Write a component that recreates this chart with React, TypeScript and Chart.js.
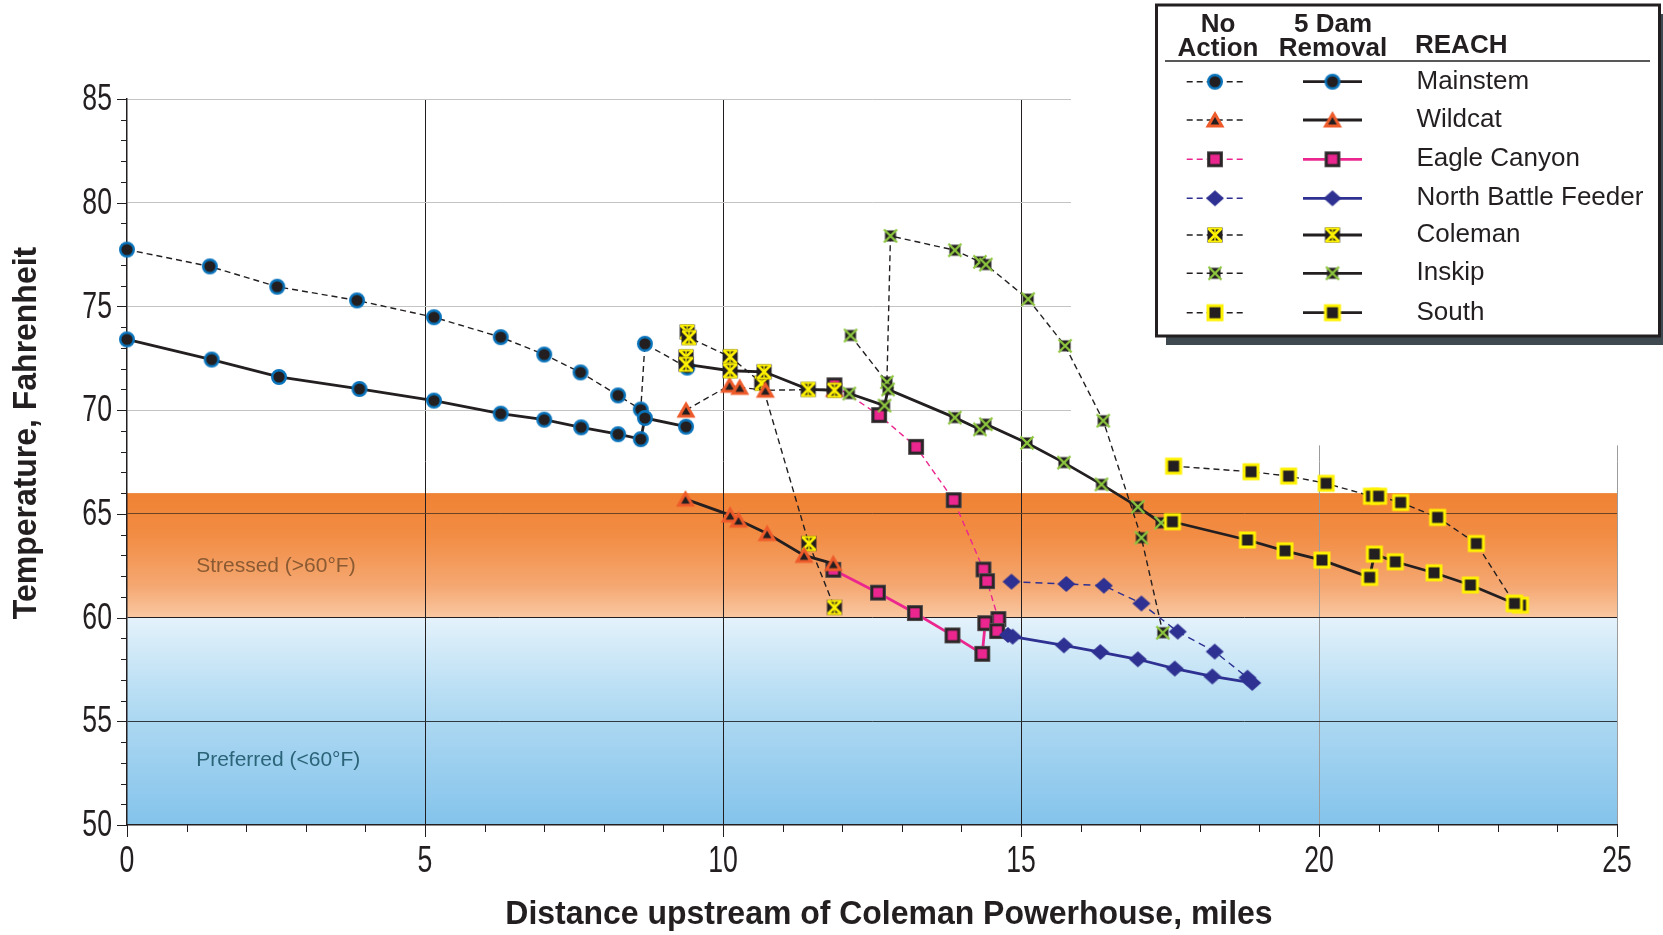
import React, { useEffect, useRef } from 'react';
import { Chart, registerables } from 'chart.js';

Chart.register(...registerables);

// ---------- DATA ----------
const xTickValues = [0, 5, 10, 15, 20, 25];
const yTickValues = [50, 55, 60, 65, 70, 75, 80, 85];

const mainstemNoAction: [number, number][] = [
  [0, 77.74], [1.39, 76.93], [2.52, 75.95], [3.86, 75.29], [5.15, 74.48], [6.27, 73.52],
  [7.0, 72.68], [7.61, 71.82], [8.24, 70.71], [8.62, 70.03], [8.69, 73.2], [9.4, 72.05],
];
const mainstemDamRemoval: [number, number][] = [
  [0, 73.41], [1.42, 72.44], [2.55, 71.6], [3.9, 71.02], [5.15, 70.46], [6.27, 69.83],
  [7.0, 69.54], [7.62, 69.17], [8.24, 68.84], [8.62, 68.6], [8.69, 69.62], [9.38, 69.2],
];
const wildcatNoAction: [number, number][] = [
  [9.38, 70.0], [10.11, 71.2], [10.28, 71.1], [10.71, 70.96], [11.87, 71.0],
];
const wildcatDamRemoval: [number, number][] = [
  [9.37, 65.71], [10.12, 64.94], [10.26, 64.7], [10.74, 64.05], [11.36, 63.0], [11.85, 62.6],
];
const eagleNoAction: [number, number][] = [
  [11.87, 71.2], [12.62, 69.76], [13.24, 68.23], [13.87, 65.66], [14.37, 62.32], [14.43, 61.76], [14.62, 59.93],
];
const eagleDamRemoval: [number, number][] = [
  [11.85, 62.3], [12.6, 61.2], [13.22, 60.22], [13.85, 59.14], [14.35, 58.25], [14.4, 59.73], [14.6, 59.35],
];
const feederNoAction: [number, number][] = [
  [14.84, 61.73], [15.76, 61.62], [16.39, 61.54], [17.02, 60.68], [17.63, 59.32], [18.25, 58.36], [18.8, 57.1],
];
const feederDamRemoval: [number, number][] = [
  [14.78, 59.16], [14.86, 59.08], [15.72, 58.66], [16.33, 58.34], [16.96, 57.99], [17.58, 57.54],
  [18.21, 57.16], [18.88, 56.85],
];
const colemanNoAction: [number, number][] = [
  [9.4, 73.77], [9.43, 73.5], [10.12, 72.57], [10.65, 71.3], [11.44, 63.57], [11.87, 60.49],
];
const colemanDamRemoval: [number, number][] = [
  [9.38, 72.57], [9.38, 72.21], [10.12, 71.9], [10.69, 71.85], [11.43, 71.0], [11.87, 70.96],
];
const inskipNoAction: [number, number][] = [
  [12.14, 73.6], [12.75, 71.35], [12.81, 78.4], [13.89, 77.71], [14.31, 77.15], [14.41, 77.02],
  [15.12, 75.35], [15.74, 73.1], [16.38, 69.49], [17.02, 63.85], [17.38, 59.27],
];
const inskipDamRemoval: [number, number][] = [
  [12.12, 70.8], [12.71, 70.22], [12.77, 71.0], [13.89, 69.64], [14.31, 69.07], [14.41, 69.32],
  [15.1, 68.42], [15.72, 67.47], [16.35, 66.42], [16.96, 65.34], [17.35, 64.57],
];
const southNoAction: [number, number][] = [
  [17.56, 67.3], [18.86, 67.03], [19.49, 66.82], [20.12, 66.47], [20.88, 65.85], [21.0, 65.85],
  [21.37, 65.55], [21.99, 64.83], [22.64, 63.57], [23.28, 60.68], [23.38, 60.6],
];
const southDamRemoval: [number, number][] = [
  [17.54, 64.62], [18.8, 63.74], [19.43, 63.22], [20.05, 62.77], [20.85, 61.94], [20.93, 63.06],
  [21.28, 62.69], [21.93, 62.16], [22.54, 61.57], [23.28, 60.68],
];

const reachNames = ['Mainstem', 'Wildcat', 'Eagle Canyon', 'North Battle Feeder', 'Coleman', 'Inskip', 'South'];

// ---------- STYLE ----------
const BLACK = '#231f20';
const PINK = '#ec268f';
const NAVY = '#2e3192';
const SANS = "'Liberation Sans', Arial, Helvetica, sans-serif";

function makeCanvas(w: number, h: number, draw: (g: CanvasRenderingContext2D) => void) {
  const c = document.createElement('canvas');
  c.width = w;
  c.height = h;
  const g = c.getContext('2d')!;
  draw(g);
  return c;
}

function buildMarkers() {
  const circle = makeCanvas(20, 20, (g) => {
    g.beginPath();
    g.arc(10, 10, 6.8, 0, Math.PI * 2);
    g.fillStyle = BLACK;
    g.fill();
    g.lineWidth = 2.4;
    g.strokeStyle = '#0a74bc';
    g.stroke();
  });
  const triangle = makeCanvas(22, 22, (g) => {
    g.beginPath();
    g.moveTo(11, 2);
    g.lineTo(20.5, 18.5);
    g.lineTo(1.5, 18.5);
    g.closePath();
    g.fillStyle = '#ee5b2b';
    g.fill();
    const cx = 11, cy = 13, k = 0.45;
    const pts = [[11, 2], [20.5, 18.5], [1.5, 18.5]].map(([x, y]) => [cx + k * (x - cx), cy + k * (y - cy)]);
    g.beginPath();
    g.moveTo(pts[0][0], pts[0][1]);
    g.lineTo(pts[1][0], pts[1][1]);
    g.lineTo(pts[2][0], pts[2][1]);
    g.closePath();
    g.fillStyle = BLACK;
    g.fill();
  });
  const pinkSquare = makeCanvas(18, 18, (g) => {
    g.fillStyle = '#5a5657';
    g.fillRect(1, 1, 16, 16);
    g.fillStyle = '#2a2627';
    g.fillRect(1.8, 1.8, 14.4, 14.4);
    g.fillStyle = PINK;
    g.fillRect(4.3, 4.3, 9.4, 9.4);
  });
  const diamond = makeCanvas(22, 20, (g) => {
    g.beginPath();
    g.moveTo(11, 2);
    g.lineTo(20, 10);
    g.lineTo(11, 18);
    g.lineTo(2, 10);
    g.closePath();
    g.fillStyle = NAVY;
    g.fill();
  });
  const coleman = makeCanvas(18, 18, (g) => {
    g.fillStyle = BLACK;
    g.fillRect(1.5, 1.5, 15, 15);
    g.strokeStyle = '#fff200';
    g.lineWidth = 2.6;
    g.beginPath();
    g.moveTo(2.5, 2.5); g.lineTo(15.5, 15.5);
    g.moveTo(15.5, 2.5); g.lineTo(2.5, 15.5);
    g.stroke();
    g.lineWidth = 2;
    g.beginPath();
    g.moveTo(2, 2.5); g.lineTo(16, 2.5);
    g.moveTo(2, 15.5); g.lineTo(16, 15.5);
    g.stroke();
    g.lineWidth = 1.4;
    g.beginPath();
    g.moveTo(9, 2); g.lineTo(9, 16);
    g.stroke();
  });
  const inskip = makeCanvas(16, 16, (g) => {
    g.fillStyle = BLACK;
    g.fillRect(2.5, 2.5, 11, 11);
    g.strokeStyle = '#8dc63f';
    g.lineWidth = 2.4;
    g.beginPath();
    g.moveTo(1.5, 1.5); g.lineTo(14.5, 14.5);
    g.moveTo(14.5, 1.5); g.lineTo(1.5, 14.5);
    g.stroke();
  });
  const south = makeCanvas(20, 20, (g) => {
    g.fillStyle = '#fff200';
    g.fillRect(1.5, 1.5, 17, 17);
    g.fillStyle = BLACK;
    g.fillRect(4.5, 4.5, 11, 11);
  });
  return { circle, triangle, pinkSquare, diamond, coleman, inskip, south };
}

function condensedText(ctx: CanvasRenderingContext2D, text: string, x: number, y: number, sx: number) {
  ctx.save();
  ctx.translate(x, y);
  ctx.scale(sx, 1);
  ctx.fillText(text, 0, 0);
  ctx.restore();
}

export default function App() {
  const ref = useRef<HTMLCanvasElement | null>(null);

  useEffect(() => {
    document.body.style.margin = '0';
    const canvas = ref.current;
    if (!canvas) return;
    const m = buildMarkers();

    const reachMarkers = [m.circle, m.triangle, m.pinkSquare, m.diamond, m.coleman, m.inskip, m.south];
    const reachColors = [BLACK, BLACK, PINK, NAVY, BLACK, BLACK, BLACK];

    // bottom -> top drawing order
    const series = [
      { data: mainstemNoAction, mk: m.circle, color: BLACK, dashed: true },
      { data: mainstemDamRemoval, mk: m.circle, color: BLACK, dashed: false },
      { data: eagleNoAction, mk: m.pinkSquare, color: PINK, dashed: true },
      { data: eagleDamRemoval, mk: m.pinkSquare, color: PINK, dashed: false },
      { data: colemanNoAction, mk: m.coleman, color: BLACK, dashed: true },
      { data: wildcatNoAction, mk: m.triangle, color: BLACK, dashed: true },
      { data: wildcatDamRemoval, mk: m.triangle, color: BLACK, dashed: false },
      { data: colemanDamRemoval, mk: m.coleman, color: BLACK, dashed: false },
      { data: inskipNoAction, mk: m.inskip, color: BLACK, dashed: true },
      { data: inskipDamRemoval, mk: m.inskip, color: BLACK, dashed: false },
      { data: feederNoAction, mk: m.diamond, color: NAVY, dashed: true },
      { data: feederDamRemoval, mk: m.diamond, color: NAVY, dashed: false },
      { data: southNoAction, mk: m.south, color: BLACK, dashed: true },
      { data: southDamRemoval, mk: m.south, color: BLACK, dashed: false },
    ];
    const n = series.length;

    const datasets = series.map((s, i) => ({
      data: s.data.map(([x, y]) => ({ x, y })),
      showLine: true,
      borderColor: s.color,
      backgroundColor: s.color,
      borderWidth: s.dashed ? 1.4 : 2.8,
      borderDash: s.dashed ? (s.color === NAVY ? [7, 5] : [6, 4]) : [],
      pointStyle: s.mk,
      pointRadius: 9,
      pointHoverRadius: 9,
      tension: 0,
      clip: false as any,
      fill: false,
      order: n - i,
    }));

    const decor = {
      id: 'decor',
      beforeDraw(chart: any) {
        const { ctx, chartArea } = chart;
        const ys = chart.scales.y;
        const l = chartArea.left, r = chartArea.right;
        ctx.save();
        ctx.fillStyle = '#ffffff';
        ctx.fillRect(0, 0, chart.width, chart.height);
        const y66 = ys.getPixelForValue(66), y60 = ys.getPixelForValue(60), y50 = ys.getPixelForValue(50);
        let g = ctx.createLinearGradient(0, y66, 0, y60);
        g.addColorStop(0, '#f08233');
        g.addColorStop(0.35, '#f28d45');
        g.addColorStop(0.75, '#f5a872');
        g.addColorStop(1, '#f9c8a2');
        ctx.fillStyle = g;
        ctx.fillRect(l, y66, r - l, y60 - y66);
        g = ctx.createLinearGradient(0, y60, 0, y50);
        g.addColorStop(0, '#e4f2fb');
        g.addColorStop(0.4, '#b4dcf3');
        g.addColorStop(1, '#84c3eb');
        ctx.fillStyle = g;
        ctx.fillRect(l, y60, r - l, y50 - y60);
        ctx.restore();
      },
      beforeDatasetsDraw(chart: any) {
        const { ctx, chartArea } = chart;
        const xs = chart.scales.x, ys = chart.scales.y;
        ctx.save();
        // white area behind legend
        const mx = xs.getPixelForValue(15.84);
        const my = ys.getPixelForValue(68.3);
        ctx.fillStyle = '#ffffff';
        ctx.fillRect(mx, chartArea.top - 3, chartArea.right - mx + 5, my - chartArea.top + 3);
        // tick marks (major + minor)
        ctx.strokeStyle = BLACK;
        ctx.lineWidth = 1;
        ctx.beginPath();
        for (let v = 0; v <= 25; v++) {
          const px = Math.round(xs.getPixelForValue(v)) + 0.5;
          const len = v % 5 === 0 ? 12 : 7;
          ctx.moveTo(px, chartArea.bottom);
          ctx.lineTo(px, chartArea.bottom + len);
        }
        for (let v = 50; v <= 85; v++) {
          const py = Math.round(ys.getPixelForValue(v)) + 0.5;
          const len = v % 5 === 0 ? 10 : 6;
          ctx.moveTo(chartArea.left - len, py);
          ctx.lineTo(chartArea.left, py);
        }
        ctx.stroke();
        // tick labels (condensed)
        ctx.fillStyle = BLACK;
        ctx.font = `37px ${SANS}`;
        ctx.textBaseline = 'middle';
        ctx.textAlign = 'center';
        xs.ticks.forEach((t: any) => {
          condensedText(ctx, String(t.value), xs.getPixelForValue(t.value), 862, 0.72);
        });
        ctx.textAlign = 'right';
        ys.ticks.forEach((t: any) => {
          condensedText(ctx, String(t.value), 112, ys.getPixelForValue(t.value) + 1, 0.72);
        });
        // band labels
        ctx.font = `21px ${SANS}`;
        ctx.textAlign = 'left';
        ctx.fillStyle = '#8a5a33';
        ctx.fillText('Stressed (>60°F)', xs.getPixelForValue(1.16), ys.getPixelForValue(62.5));
        ctx.fillStyle = '#2b6478';
        ctx.fillText('Preferred (<60°F)', xs.getPixelForValue(1.16), ys.getPixelForValue(53.1));
        // axis titles
        ctx.fillStyle = BLACK;
        ctx.font = `bold 34px ${SANS}`;
        ctx.textAlign = 'center';
        condensedText(ctx, 'Distance upstream of Coleman Powerhouse, miles', 889, 915, 0.94);
        ctx.save();
        ctx.translate(27, 433);
        ctx.rotate(-Math.PI / 2);
        condensedText(ctx, 'Temperature, Fahrenheit', 0, 0, 0.94);
        ctx.restore();
        ctx.restore();
      },
      afterDraw(chart: any) {
        const { ctx } = chart;
        ctx.save();
        ctx.fillStyle = '#3e4a4f';
        ctx.fillRect(1166, 14, 510, 331);
        ctx.fillStyle = '#ffffff';
        ctx.fillRect(1156.5, 5, 503, 331);
        ctx.strokeStyle = BLACK;
        ctx.lineWidth = 3;
        ctx.strokeRect(1156.5, 5, 503, 331);
        ctx.fillStyle = BLACK;
        ctx.font = `bold 26px ${SANS}`;
        ctx.textAlign = 'center';
        ctx.textBaseline = 'middle';
        ctx.fillText('No', 1218, 25);
        ctx.fillText('Action', 1218, 48.5);
        ctx.fillText('5 Dam', 1333, 25);
        ctx.fillText('Removal', 1333, 48.5);
        ctx.textAlign = 'left';
        ctx.fillText('REACH', 1415, 46);
        ctx.lineWidth = 1.4;
        ctx.beginPath();
        ctx.moveTo(1165, 61);
        ctx.lineTo(1650, 61);
        ctx.stroke();
        const rowY = [81.7, 120, 159.3, 198.3, 235, 273.3, 312.7];
        ctx.font = `26px ${SANS}`;
        reachNames.forEach((name, i) => {
          const y = rowY[i];
          const col = reachColors[i];
          ctx.strokeStyle = col;
          ctx.lineWidth = 1.4;
          ctx.setLineDash([6, 4]);
          ctx.beginPath();
          ctx.moveTo(1186.7, y);
          ctx.lineTo(1244, y);
          ctx.stroke();
          ctx.setLineDash([]);
          ctx.lineWidth = 2.8;
          ctx.beginPath();
          ctx.moveTo(1303, y);
          ctx.lineTo(1362, y);
          ctx.stroke();
          const mk = reachMarkers[i];
          ctx.drawImage(mk, 1215 - mk.width / 2, y - mk.height / 2);
          ctx.drawImage(mk, 1332.5 - mk.width / 2, y - mk.height / 2);
          ctx.fillStyle = BLACK;
          ctx.fillText(name, 1416.5, y);
        });
        ctx.restore();
      },
    };

    const xGridColor = (c: any) => {
      const v = c.tick ? c.tick.value : null;
      if (v === 5 || v === 10 || v === 15) return BLACK;
      if (v === 20 || v === 25) return '#9c9c9c';
      return 'rgba(0,0,0,0)';
    };
    const yGridColor = (c: any) => {
      const v = c.tick ? c.tick.value : null;
      if (v === 70 || v === 75 || v === 80 || v === 85) return '#c4c4c4';
      if (v === 65) return '#6b4426';
      if (v === 60) return BLACK;
      if (v === 55) return '#2f3a40';
      return 'rgba(0,0,0,0)';
    };

    const chart = new Chart(canvas, {
      type: 'scatter',
      data: { datasets: datasets as any },
      options: {
        animation: false,
        responsive: false,
        devicePixelRatio: 1,
        layout: { padding: { left: 0, right: 46, top: 99, bottom: 0 } },
        plugins: {
          legend: { display: false },
          tooltip: { enabled: false },
          title: { display: false },
        },
        scales: {
          x: {
            type: 'linear',
            min: xTickValues[0],
            max: xTickValues[xTickValues.length - 1],
            afterFit: (s: any) => { s.height = 110; },
            afterBuildTicks: (s: any) => { s.ticks = xTickValues.map((v) => ({ value: v })); },
            ticks: { display: false, autoSkip: false },
            grid: { drawTicks: false, color: xGridColor, lineWidth: 1 },
            border: { display: true, color: BLACK, width: 1.5 },
          },
          y: {
            type: 'linear',
            min: yTickValues[0],
            max: yTickValues[yTickValues.length - 1],
            afterFit: (s: any) => { s.width = 127; },
            afterBuildTicks: (s: any) => { s.ticks = yTickValues.map((v) => ({ value: v })); },
            ticks: { display: false, autoSkip: false },
            grid: { drawTicks: false, color: yGridColor, lineWidth: 1 },
            border: { display: true, color: BLACK, width: 1.5 },
          },
        },
      } as any,
      plugins: [decor],
    });

    return () => chart.destroy();
  }, []);

  return (
    <div style={{ width: 1663, height: 935 }}>
      <canvas ref={ref} width={1663} height={935} style={{ display: 'block', width: 1663, height: 935 }} />
    </div>
  );
}
